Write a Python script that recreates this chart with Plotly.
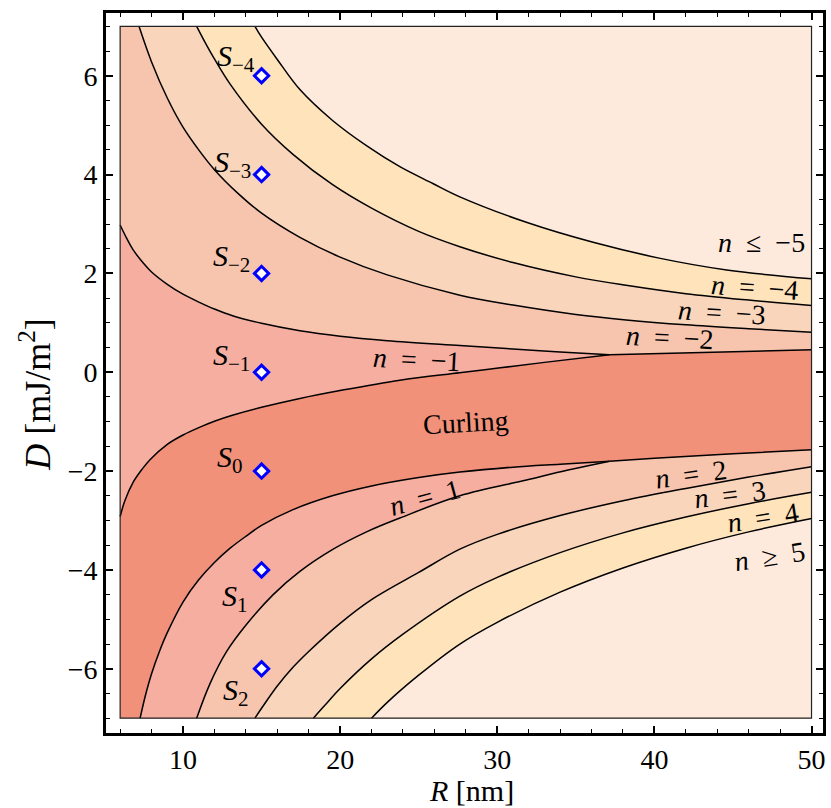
import plotly.graph_objects as go

# ---------------- data ----------------
R_MIN, R_MAX = 6.0, 50.0
D_MIN, D_MAX = -7.0, 7.0

# curling / n=-1 boundary (up to the triple point)
R_CUP1 = [6, 6.3, 6.84, 7.4, 7.9, 9, 10, 11.08, 12, 13.2, 15, 17.44, 20, 23.8, 27.6, 30.2, 33, 37.15]
D_CUP1 = [-2.92, -2.6, -2.22, -1.96, -1.77, -1.46, -1.27, -1.11, -0.99, -0.865, -0.71, -0.53, -0.37, -0.16, -0.01, 0.09, 0.2, 0.355]
# curling / n=-2 boundary (after the triple point)
R_CUP2 = [37.15, 40, 45, 50]
D_CUP2 = [0.355, 0.38, 0.42, 0.455]
# n=-1 / n=-2
R_U12 = [6, 6.4, 6.82, 7.5, 8, 9, 10, 11.08, 12, 13.2, 15, 17.44, 20, 23, 27.62, 31, 34, 37.15]
D_U12 = [2.98, 2.72, 2.48, 2.2, 2.03, 1.78, 1.58, 1.41, 1.28, 1.14, 0.99, 0.84, 0.73, 0.64, 0.54, 0.47, 0.41, 0.355]
# n=-2 / n=-3
R_U23 = [7.2, 8, 9, 10, 11, 12, 13.5, 15, 17.44, 20, 23, 27.62, 31, 35, 38.2, 42, 46, 50]
D_U23 = [7.0, 6.28, 5.55, 4.96, 4.5, 4.1, 3.62, 3.22, 2.73, 2.33, 1.97, 1.56, 1.36, 1.17, 1.06, 0.96, 0.88, 0.81]
# n=-3 / n=-4
R_U34 = [10.87, 11.5, 12, 13, 15, 17, 19.5, 22, 25, 27.62, 31, 35, 38.2, 42, 46, 50]
D_U34 = [7.0, 6.62, 6.34, 5.83, 5.02, 4.41, 3.8, 3.32, 2.85, 2.54, 2.22, 1.93, 1.76, 1.59, 1.46, 1.35]
# n=-4 / n<=-5
R_U45 = [14.58, 15, 16, 17.44, 19.5, 21.7, 23.8, 25.9, 27.62, 31.9, 36.1, 40.3, 44.6, 50]
D_U45 = [7.0, 6.78, 6.33, 5.72, 5.1, 4.58, 4.16, 3.82, 3.55, 3.03, 2.63, 2.31, 2.07, 1.89]

# curling / n=1 boundary (up to the triple point)
R_CLO1 = [7.27, 7.6, 8.0, 8.5, 9.0, 10.0, 11.0, 12.0, 13.0, 14.0, 15.0, 17.0, 19.5, 22.0, 25.0, 27.62, 31.0, 34.0, 37.15]
D_CLO1 = [-7.0, -6.55, -6.1, -5.65, -5.27, -4.65, -4.2, -3.85, -3.56, -3.32, -3.1, -2.78, -2.5, -2.3, -2.13, -2.02, -1.92, -1.86, -1.8]
# curling / n=2 boundary (after the triple point)
R_CLO2 = [37.15, 40, 45, 50]
D_CLO2 = [-1.8, -1.74, -1.65, -1.57]
# n=1 / n=2
R_L12 = [10.87, 11.72, 12.78, 14.05, 15.74, 17.44, 19.56, 21.68, 23.8, 27.62, 31.86, 34.5, 37.15]
D_L12 = [-7.0, -6.3, -5.65, -5.1, -4.5, -4.03, -3.58, -3.23, -2.95, -2.5, -2.18, -1.98, -1.8]
# n=2 / n=3
R_L23 = [14.58, 15, 16, 17, 18, 20, 22, 25, 27.62, 30, 34, 38, 42, 46, 50]
D_L23 = [-7.0, -6.8, -6.35, -5.97, -5.65, -5.08, -4.6, -4.05, -3.58, -3.28, -2.9, -2.6, -2.35, -2.12, -1.91]
# n=3 / n=4
R_L34 = [18.3, 19, 20, 22, 24, 27.62, 30, 34, 38, 42, 46, 50]
D_L34 = [-7.0, -6.75, -6.4, -5.8, -5.3, -4.53, -4.15, -3.65, -3.25, -2.93, -2.66, -2.43]
# n=4 / n>=5
R_L45 = [22.0, 23, 25, 27.62, 30, 34, 38, 42, 46, 50]
D_L45 = [-7.0, -6.68, -6.13, -5.5, -5.06, -4.45, -3.96, -3.56, -3.23, -2.96]

# marked states S_n at R = 15 nm
S_R = [15, 15, 15, 15, 15, 15, 15]
S_D = [6, 4, 2, 0, -2, -4, -6]
S_NAMES = ["−4", "−3", "−2", "−1", "0", "1", "2"]
S_LABEL_R = [14.71, 14.45, 14.39, 14.39, 13.94, 14.26, 14.32]
S_LABEL_D = [6.36, 4.22, 2.32, 0.31, -1.75, -4.56, -6.48]

# region labels
SP = "\u2002"
REG_TEXT = ["<i>n</i>" + SP + "≤" + SP + "−5", "<i>n</i>" + SP + "=" + SP + "−4",
            "<i>n</i>" + SP + "=" + SP + "−3", "<i>n</i>" + SP + "=" + SP + "−2",
            "<i>n</i>" + SP + "=" + SP + "−1", "Curling",
            "<i>n</i>" + SP + "=" + SP + "1", "<i>n</i>" + SP + "=" + SP + "2",
            "<i>n</i>" + SP + "=" + SP + "3", "<i>n</i>" + SP + "=" + SP + "4",
            "<i>n</i>" + SP + "≥" + SP + "5"]
REG_R = [46.8, 46.4, 44.3, 41.0, 24.9, 28.0, 25.4, 42.3, 44.8, 46.9, 47.3]
REG_D = [2.62, 1.71, 1.20, 0.70, 0.25, -1.02, -2.54, -2.07, -2.48, -2.94, -3.73]
REG_ANGLE = [0, 4, 3.5, 3, 3, -3, -15, -8, -7, -9, -9]

# colours
C_CURL = "#F1917A"
C_1 = "#F5AEA0"
C_2 = "#F7C4AE"
C_3 = "#F9D5BB"
C_4 = "#FEE3BB"
C_5 = "#FEEADD"

FONT = "Liberation Serif, DejaVu Serif, serif"

fig = go.Figure()


def pair(ax, ay, ashape, bx, by, bshape, color):
    fig.add_trace(go.Scatter(x=ax, y=ay, mode="lines", line=dict(width=0, shape=ashape),
                             hoverinfo="skip", showlegend=False))
    fig.add_trace(go.Scatter(x=bx, y=by, mode="lines", line=dict(width=0, shape=bshape),
                             fill="tonexty", fillcolor=color, hoverinfo="skip", showlegend=False))


# region above curling (n=-2 colour first)
ax = [R_MIN, R_MAX, R_MAX] + R_CUP2[::-1]
ay = [D_MAX, D_MAX, D_CUP2[-1]] + D_CUP2[::-1]
pair(ax, ay, "linear", R_CUP1, D_CUP1, "spline", C_2)
# n=-1 band
pair(R_CUP1, D_CUP1, "spline", R_U12, D_U12, "spline", C_1)
# above U23, U34, U45
pair([R_U23[0], R_MAX], [D_MAX, D_MAX], "linear", R_U23, D_U23, "spline", C_3)
pair([R_U34[0], R_MAX], [D_MAX, D_MAX], "linear", R_U34, D_U34, "spline", C_4)
pair([R_U45[0], R_MAX], [D_MAX, D_MAX], "linear", R_U45, D_U45, "spline", C_5)
# region below curling (n=2 colour first)
ax = [R_CLO1[0], R_MAX, R_MAX] + R_CLO2[::-1]
ay = [D_MIN, D_MIN, D_CLO2[-1]] + D_CLO2[::-1]
pair(ax, ay, "linear", R_CLO1, D_CLO1, "spline", C_2)
# n=1 band
pair(R_L12, D_L12, "spline", R_CLO1, D_CLO1, "spline", C_1)
# below L23, L34, L45
pair([R_L23[0], R_MAX], [D_MIN, D_MIN], "linear", R_L23, D_L23, "spline", C_3)
pair([R_L34[0], R_MAX], [D_MIN, D_MIN], "linear", R_L34, D_L34, "spline", C_4)
pair([R_L45[0], R_MAX], [D_MIN, D_MIN], "linear", R_L45, D_L45, "spline", C_5)

# boundary lines
for xs, ys, shp in [(R_CUP1, D_CUP1, "spline"), (R_CUP2, D_CUP2, "linear"), (R_U12, D_U12, "spline"),
                    (R_U23, D_U23, "spline"), (R_U34, D_U34, "spline"), (R_U45, D_U45, "spline"),
                    (R_CLO1, D_CLO1, "spline"), (R_CLO2, D_CLO2, "linear"), (R_L12, D_L12, "spline"),
                    (R_L23, D_L23, "spline"), (R_L34, D_L34, "spline"), (R_L45, D_L45, "spline")]:
    fig.add_trace(go.Scatter(x=xs, y=ys, mode="lines", line=dict(color="black", width=1.5, shape=shp),
                             hoverinfo="skip", showlegend=False))

# S_n markers
fig.add_trace(go.Scatter(x=S_R, y=S_D, mode="markers",
                         marker=dict(symbol="diamond", size=11, color="white",
                                     line=dict(color="#0000FF", width=3)),
                         showlegend=False))

# background of the region plot (curling colour) and its outline
fig.add_shape(type="rect", x0=R_MIN, x1=R_MAX, y0=D_MIN, y1=D_MAX, xref="x", yref="y",
              fillcolor=C_CURL, line=dict(width=0), layer="below")
fig.add_shape(type="rect", x0=R_MIN, x1=R_MAX, y0=D_MIN, y1=D_MAX, xref="x", yref="y",
              fillcolor="rgba(0,0,0,0)", line=dict(width=1.2, color="#222222"), layer="above")

for t, r, d, a in zip(REG_TEXT, REG_R, REG_D, REG_ANGLE):
    fig.add_annotation(x=r, y=d, text=t, showarrow=False, textangle=a,
                       font=dict(family=FONT, size=28, color="black"))

for name, r, d in zip(S_NAMES, S_LABEL_R, S_LABEL_D):
    fig.add_annotation(x=r, y=d, text="<i>S</i><sub>" + name + "</sub>", showarrow=False,
                       xanchor="right", yanchor="middle",
                       font=dict(family=FONT, size=30, color="black"))

# axis titles
fig.add_annotation(xref="paper", yref="paper", x=0.510, y=-0.1035, text="<i>R</i> [nm]",
                   showarrow=False, xanchor="center", yanchor="bottom", borderpad=0,
                   font=dict(family=FONT, size=30, color="black"))
fig.add_annotation(xref="paper", yref="paper", x=-0.0987, y=0.47, text="<i>D</i> [mJ/m<sup>2</sup>]",
                   showarrow=False, textangle=-90, xanchor="center", yanchor="middle",
                   font=dict(family=FONT, size=36, color="black"))

axis_common = dict(ticks="inside", ticklen=7, tickwidth=1.6, tickcolor="black",
                   showline=True, linewidth=2.6, linecolor="black", mirror="ticks",
                   showgrid=False, zeroline=False,
                   tickfont=dict(family=FONT, size=28, color="black"))

fig.update_layout(
    width=831, height=808,
    margin=dict(l=105.8, r=7.5, t=13.3, b=74.7, autoexpand=False),
    paper_bgcolor="white", plot_bgcolor="white",
    font=dict(family=FONT, color="black"),
    xaxis=dict(range=[5.1, 50.73], tickmode="linear", tick0=0, dtick=10,
               minor=dict(ticks="inside", ticklen=4, tickwidth=1.4, tickcolor="black",
                          tick0=0, dtick=2, showgrid=False),
               **axis_common),
    yaxis=dict(range=[-7.3, 7.27], tickmode="linear", tick0=0, dtick=2,
               minor=dict(ticks="inside", ticklen=4, tickwidth=1.4, tickcolor="black",
                          tick0=0, dtick=0.5, showgrid=False),
               **axis_common),
)

fig.write_html("out.html")
